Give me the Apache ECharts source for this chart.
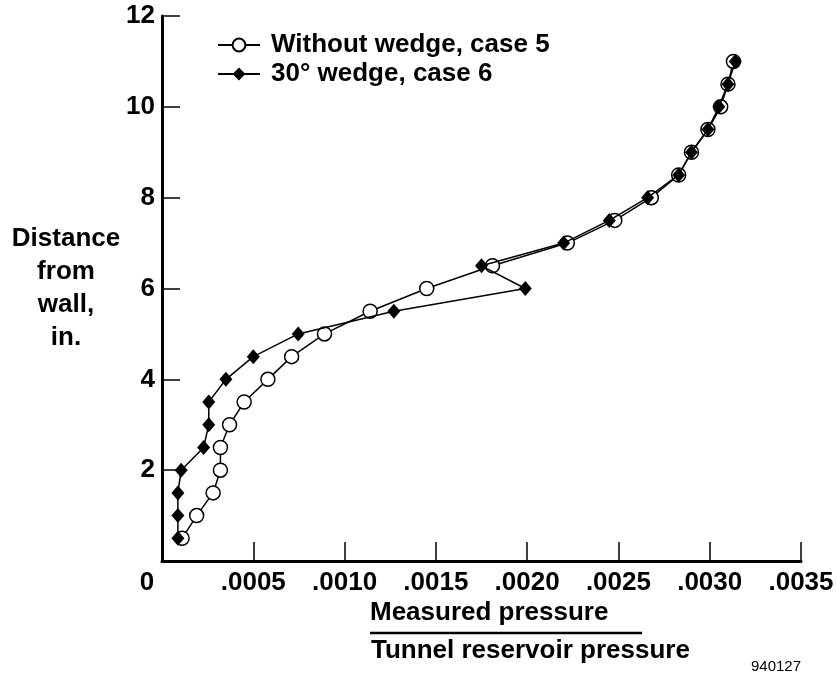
<!DOCTYPE html>
<html>
<head>
<meta charset="utf-8">
<script src="https://cdn.jsdelivr.net/npm/echarts@6/dist/echarts.min.js"></script>
<style>html,body{margin:0;padding:0;background:#fff}#c{width:837px;height:682px}</style>
</head>
<body>
<div id="c"></div>
<script>
// Distance from wall (in.)
var distCase5 = [0.5,1.0,1.5,2.0,2.5,3.0,3.5,4.0,4.5,5.0,5.5,6.0,6.5,7.0,7.5,8.0,8.5,9.0,9.5,10.0,10.5,11.0];
var distCase6 = [0.5,1.0,1.5,2.0,2.5,3.0,3.5,4.0,4.5,5.0,5.5,6.0,6.5,7.0,7.5,8.0,8.5,9.0,9.5,10.0,10.5,11.0];
// Measured pressure / tunnel reservoir pressure
var pressCase5 = [0.00011,0.00019,0.00028,0.00032,0.00032,0.00037,0.00045,0.00058,0.00071,0.00089,0.00114,0.00145,0.00181,0.00222,0.00248,0.00268,0.00283,0.00290,0.00299,0.00306,0.00310,0.00313];
var pressCase6 = [0.000087,0.000087,0.000087,0.000105,0.000228,0.000256,0.000256,0.00035,0.00050,0.000746,0.00127,0.00199,0.00175,0.00220,0.00245,0.00266,0.00283,0.00290,0.00299,0.00305,0.00310,0.00314];
var seriesNames = ['Without wedge, case 5', '30\u00b0 wedge, case 6'];
var yTitle = 'Distance\nfrom\nwall,\nin.';
var xTitleTop = 'Measured pressure';
var xTitleBottom = 'Tunnel reservoir pressure';
var figId = '940127';

function pairs(xs, ys){ return xs.map(function(x,i){ return [x, ys[i]]; }); }

var FONT = '"Liberation Sans", Arial, Helvetica, sans-serif';
var chart = echarts.init(document.getElementById('c'), null, {renderer:'canvas'});
chart.setOption({
  animation: false,
  backgroundColor: '#fff',
  textStyle: {fontFamily: FONT},
  grid: {left: 162, right: 36, top: 16, bottom: 121},
  legend: {
    orient: 'vertical', left: 212, top: 26, itemWidth: 42, itemHeight: 16, itemGap: 1,
    data: seriesNames,
    textStyle: {fontFamily: FONT, fontSize: 26, fontWeight: 'bold', color: '#000', lineHeight: 28, padding: [0,0,0,6]}
  },
  xAxis: {
    type: 'value', min: 0, max: 0.0035, interval: 0.0005,
    axisLine: {lineStyle: {color: '#000', width: 3}},
    axisTick: {inside: true, length: 19, lineStyle: {color: '#000', width: 1.5}},
    splitLine: {show: false},
    axisLabel: {
      margin: 9, color: '#000', fontFamily: FONT, fontSize: 26, fontWeight: 'bold',
      formatter: function(v){ return v === 0 ? '{z|0}' : v.toFixed(4).replace(/^0/, ''); },
      rich: {z: {fontFamily: FONT, fontSize: 26, fontWeight: 'bold', color: '#000', padding: [0,30,0,0]}}
    }
  },
  yAxis: {
    type: 'value', min: 0, max: 12, interval: 2,
    name: yTitle, nameLocation: 'middle', nameRotate: 0, nameGap: 95,
    nameTextStyle: {fontFamily: FONT, fontSize: 26, fontWeight: 'bold', color: '#000', lineHeight: 33, align: 'center', verticalAlign: 'middle'},
    axisLine: {lineStyle: {color: '#000', width: 3}},
    axisTick: {inside: true, length: 18, lineStyle: {color: '#000', width: 1.5}},
    splitLine: {show: false},
    axisLabel: {
      margin: 7, color: '#000', fontFamily: FONT, fontSize: 26, fontWeight: 'bold', padding: [7,0,0,0],
      formatter: function(v){ return v === 0 ? '' : String(v); }
    }
  },
  series: [
    {
      name: seriesNames[0], type: 'line', data: pairs(pressCase5, distCase5),
      symbol: 'circle', symbolSize: 14,
      lineStyle: {color: '#000', width: 1.5},
      itemStyle: {color: '#fff', borderColor: '#000', borderWidth: 1.5},
      z: 2
    },
    {
      name: seriesNames[1], type: 'line', data: pairs(pressCase6, distCase6),
      symbol: 'diamond', symbolSize: [13, 15],
      lineStyle: {color: '#000', width: 1.5},
      itemStyle: {color: '#000', borderColor: '#000', borderWidth: 0},
      z: 3
    }
  ],
  graphic: [
    {type: 'text', left: 370, top: 600, style: {text: xTitleTop, font: 'bold 26px ' + FONT, fill: '#000'}},
    {type: 'line', shape: {x1: 370, y1: 633, x2: 642, y2: 633}, style: {stroke: '#000', lineWidth: 2.5}},
    {type: 'text', left: 371, top: 638, style: {text: xTitleBottom, font: 'bold 26px ' + FONT, fill: '#000'}},
    {type: 'text', left: 751, top: 659, style: {text: figId, font: '15px ' + FONT, fill: '#000'}}
  ]
});
</script>
</body>
</html>
